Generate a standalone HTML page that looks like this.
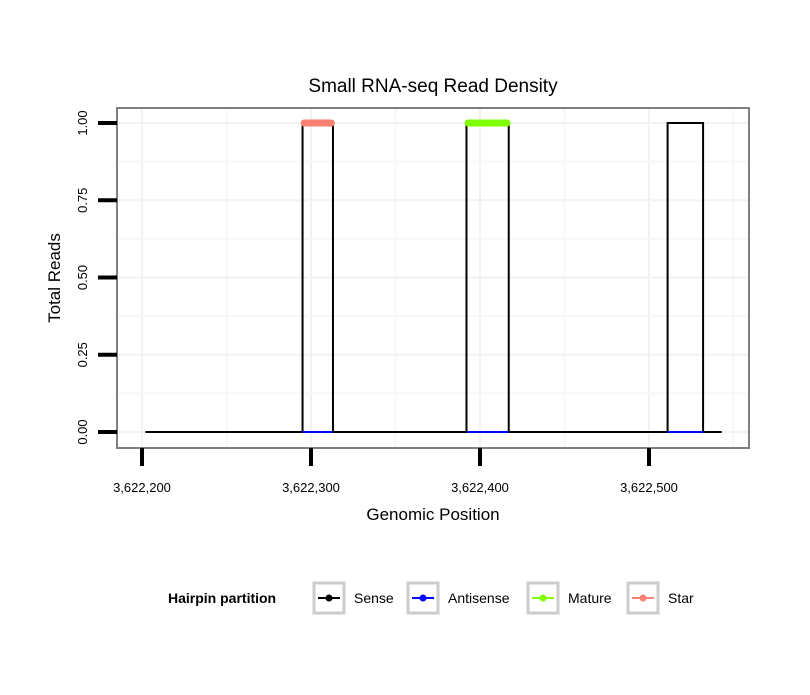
<!DOCTYPE html>
<html><head><meta charset="utf-8"><style>
body{margin:0;background:#fff;font-family:"Liberation Sans",sans-serif}
</style></head><body>
<svg id="chart" width="810" height="690" viewBox="0 0 810 690" font-family="Liberation Sans, sans-serif">
<rect width="810" height="690" fill="#fff"/>
<text x="433" y="92" font-size="19" text-anchor="middle">Small RNA-seq Read Density</text>
<g id="grid"></g>
<g id="series"></g>
<rect x="117" y="108" width="632" height="340" fill="none" stroke="#7f7f7f" stroke-width="2"/>
<g id="axes"></g>
<text x="433" y="520" font-size="17" text-anchor="middle">Genomic Position</text>
<text transform="translate(60,278) rotate(-90)" font-size="17" text-anchor="middle">Total Reads</text>
<g font-size="14">
<text x="168" y="603" font-weight="bold">Hairpin partition</text>
<g id="legend"></g>
</g>
</svg>
<script>
const xTicks=[3622200,3622300,3622400,3622500];
const xTickLabels=["3,622,200","3,622,300","3,622,400","3,622,500"];
const yTicks=[0,0.25,0.5,0.75,1];
const yTickLabels=["0.00","0.25","0.50","0.75","1.00"];
const senseX=[3622202,3622295,3622295,3622313,3622313,3622392,3622392,3622417,3622417,3622511,3622511,3622532,3622532,3622543];
const senseY=[0,0,1,1,0,0,1,1,0,0,1,1,0,0];
const antisenseSegs=[[3622295,3622313],[3622392,3622417],[3622511,3622532]];
const matureSegs=[[3622393,3622416]];
const starSegs=[[3622296,3622312]];
const legendNames=["Sense","Antisense","Mature","Star"];
const legendColors=["#000000","#0000ff","#7fff00","#fa8072"];
const NS="http://www.w3.org/2000/svg";
const sx=v=>142+(v-3622200)*1.69;
const sy=v=>432-v*309;
function mk(tag,attrs,parent){const e=document.createElementNS(NS,tag);for(const k in attrs)e.setAttribute(k,attrs[k]);parent.appendChild(e);return e;}
const grid=document.getElementById('grid'),axes=document.getElementById('axes'),series=document.getElementById('series'),legend=document.getElementById('legend');
for(let i=0;i<xTicks.length;i++){
  const x=sx(xTicks[i]);
  let g=mk('line',{x1:x,x2:x,y1:108,y2:448,stroke:'#f2f2f2','stroke-width':2},grid);
  
  
  const xm=sx(xTicks[i]+50);
  g=mk('line',{x1:xm,x2:xm,y1:108,y2:448,stroke:'#f7f7f7','stroke-width':2},grid);
  
  
  const t=mk('line',{x1:x,x2:x,y1:448,y2:466,stroke:'#000','stroke-width':4},axes);
  
  
  const l=mk('text',{x:x,y:492,'font-size':13,'text-anchor':'middle'},axes);
  l.textContent=xTickLabels[i];
  
  
}
for(let i=0;i<yTicks.length;i++){
  const y=sy(yTicks[i]);
  let g=mk('line',{x1:117,x2:749,y1:y,y2:y,stroke:'#f2f2f2','stroke-width':2},grid);
  
  
  if(i<yTicks.length-1){const ym=sy((yTicks[i]+yTicks[i+1])/2);
    g=mk('line',{x1:117,x2:749,y1:ym,y2:ym,stroke:'#f7f7f7','stroke-width':2},grid);
    
    }
  const t=mk('line',{x1:98,x2:117,y1:y,y2:y,stroke:'#000','stroke-width':4},axes);
  
  
  const l=mk('text',{transform:`translate(87,${y}) rotate(-90)`,'font-size':13,'text-anchor':'middle'},axes);
  l.textContent=yTickLabels[i];
  
  
}
const pts=senseX.map((v,i)=>sx(v)+','+sy(senseY[i])).join(' ');
const sense=mk('polyline',{points:pts,fill:'none',stroke:'#000','stroke-width':2},series);


antisenseSegs.forEach(s=>{const e=mk('line',{x1:sx(s[0]),x2:sx(s[1]),y1:sy(0),y2:sy(0),stroke:'#0000ff','stroke-width':2},series);
  
  });
matureSegs.forEach(s=>{const e=mk('line',{x1:sx(s[0]),x2:sx(s[1]),y1:sy(1),y2:sy(1),stroke:'#7fff00','stroke-width':7,'stroke-linecap':'round'},series);
  
  });
starSegs.forEach(s=>{const e=mk('line',{x1:sx(s[0]),x2:sx(s[1]),y1:sy(1),y2:sy(1),stroke:'#fa8072','stroke-width':7,'stroke-linecap':'round'},series);
  
  });
const keyX=[314,408,528,628];
for(let i=0;i<legendNames.length;i++){
  const x=keyX[i];
  const k=mk('rect',{x:x,y:583,width:30,height:30,fill:'#fff',stroke:'#cccccc','stroke-width':3},legend);
  
  
  mk('line',{x1:x+4,x2:x+26,y1:598,y2:598,stroke:legendColors[i],'stroke-width':2},legend);
  mk('circle',{cx:x+15,cy:598,r:3.5,fill:legendColors[i]},legend);
  const t=mk('text',{x:x+40,y:603},legend);
  t.textContent=legendNames[i];
  
  
}
</script>
</body></html>
